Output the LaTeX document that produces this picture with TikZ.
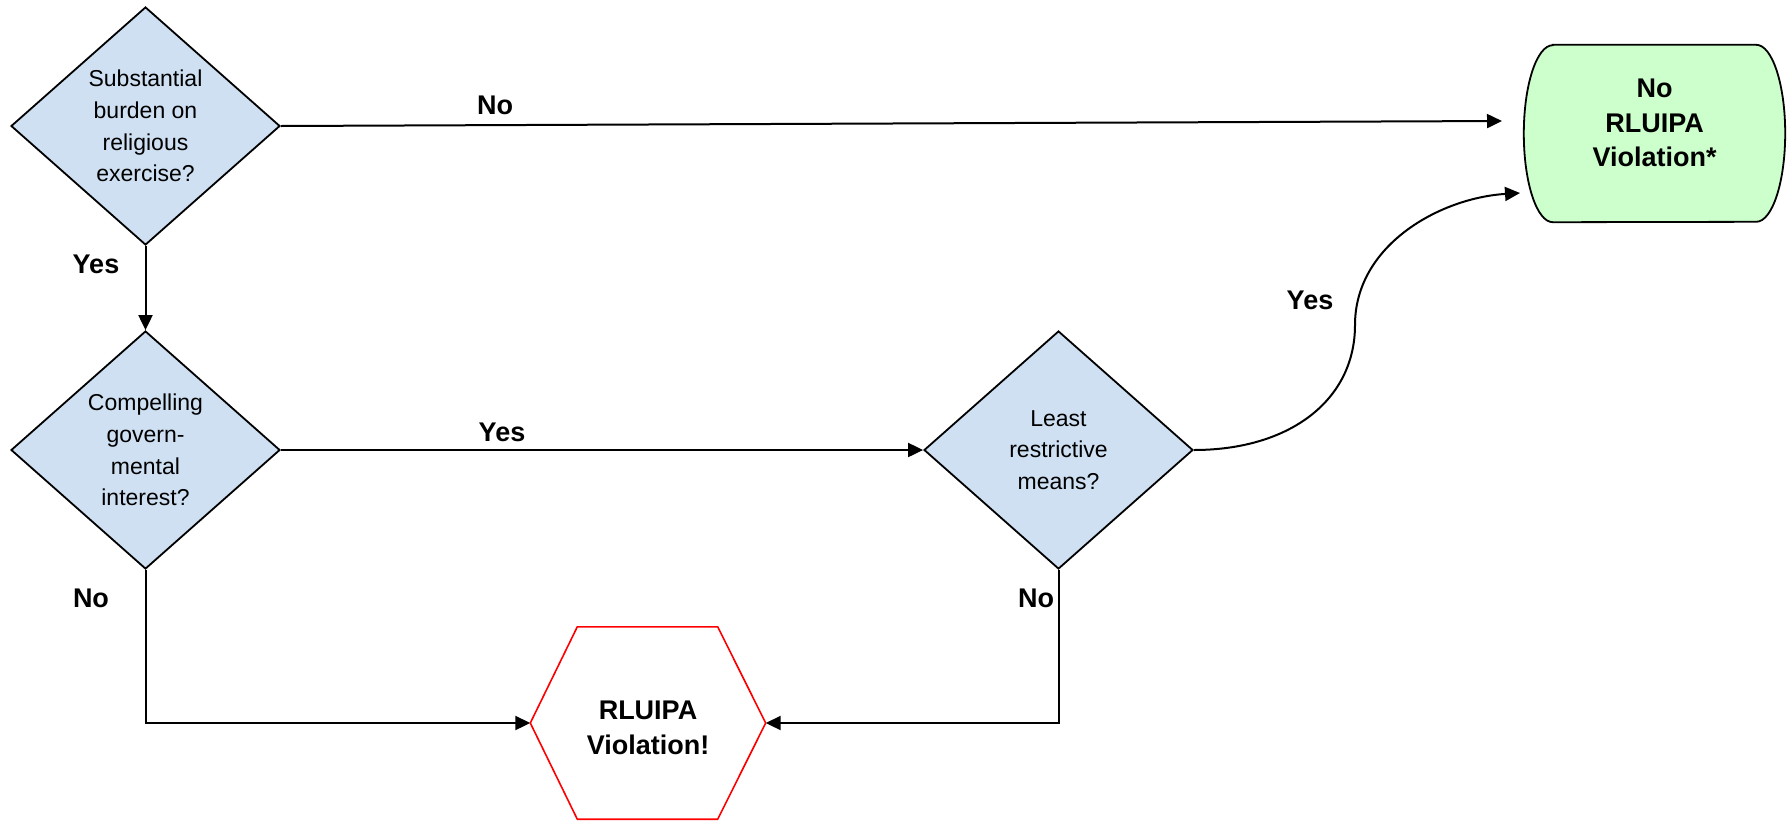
\documentclass[tikz,border=0pt]{standalone}
\usepackage{fontspec}
\setmainfont{Liberation Sans}
\usetikzlibrary{shapes.geometric,arrows.meta,calc}
\definecolor{qblue}{HTML}{CEE0F2}
\definecolor{okgreen}{HTML}{CCFFCC}
\tikzset{
  question/.style={shape=diamond, draw=black, line width=1.8pt, fill=qblue, minimum width=269pt, minimum height=238pt, inner sep=0pt, align=center, font=\fontsize{23}{31.6}\selectfont},
  blank/.style={shape=rectangle, inner sep=0pt},
  lbl/.style={font=\bfseries\fontsize{27}{30}\selectfont},
  outtext/.style={align=center, font=\bfseries\fontsize{27}{34.5}\selectfont},
  conn/.style={line width=2pt, -{Triangle[length=15pt,width=14pt]}},
}
\begin{document}
\begin{tikzpicture}[x=1pt,y=-1pt]
\useasboundingbox (0,0) rectangle (1789,820);
% decisions
\node[question] (q1) at (145.5,126) {Substantial\\burden on\\religious\\exercise?};
\node[question] (q2) at (145.5,450) {Compelling\\govern-\\mental\\interest?};
\node[question] (q3) at (1058.5,450) {Least\\restrictive\\means?};
% outcome: no violation
\node[blank, minimum width=261pt, minimum height=177pt] (ok) at (1654.5,133.5) {};
\draw[line width=1.8pt, fill=okgreen] ($(ok.north west)+(29,0)$) -- ($(ok.north east)+(-29,0)$)
  arc[start angle=90, end angle=-90, x radius=29pt, y radius=88.5pt]
  -- ($(ok.south west)+(29,0)$)
  arc[start angle=270, end angle=90, x radius=29pt, y radius=88.5pt] -- cycle;
\node[outtext] (okt) at (1654.5,123) {No\\RLUIPA\\Violation*};
% outcome: violation
\node[blank, minimum width=235pt, minimum height=192pt] (bad) at (648,723) {};
\draw[line width=1.6pt, draw=red, fill=white] (bad.west) -- ($(bad.north west)+(47,0)$) -- ($(bad.north east)+(-48,0)$)
  -- (bad.east) -- ($(bad.south east)+(-48,0)$) -- ($(bad.south west)+(47,0)$) -- cycle;
\node[outtext] (badt) at (648,728) {RLUIPA\\Violation!};
% connectors
\coordinate (e1) at (1502,121);
\coordinate (e2) at (1520,193);
\coordinate (c2) at (145.5,723);
\coordinate (c3) at (1058.5,723);
\draw[conn] (q1.east) -- (e1);
\draw[conn] (q1.south) -- (q2.north);
\draw[conn] (q2.east) -- (q3.west);
\draw[conn] (q3.east) .. controls (1290,450) and (1355,400) .. (1355,325)
  .. controls (1355,245) and (1440,198) .. (e2);
\draw[conn] (q2.south) -- (c2) -- (bad.west);
\draw[conn] (q3.south) -- (c3) -- (bad.east);
% labels
\node[lbl] (l1) at (495,105) {No};
\node[lbl] (l2) at (96,264) {Yes};
\node[lbl] (l3) at (502,432) {Yes};
\node[lbl] (l4) at (1310,300) {Yes};
\node[lbl] (l5) at (91,598) {No};
\node[lbl] (l6) at (1036,598) {No};
\end{tikzpicture}
\end{document}
